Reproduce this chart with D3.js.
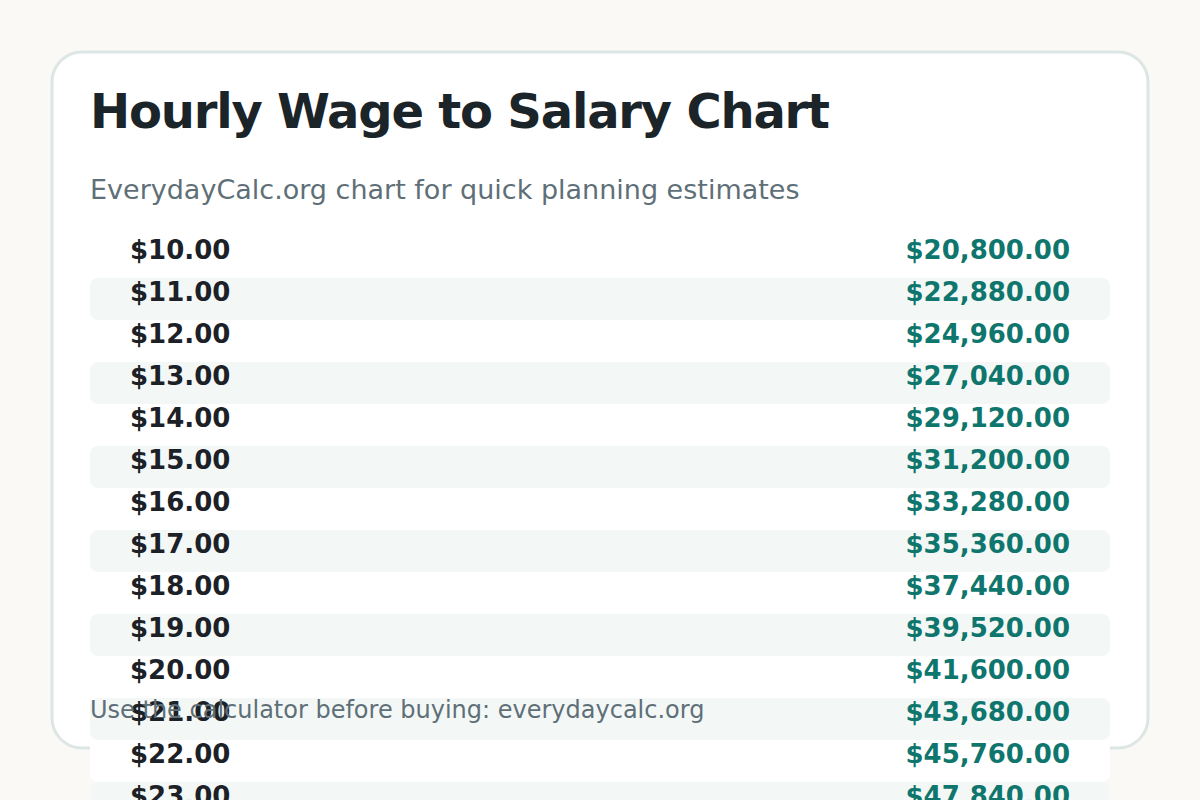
<!DOCTYPE html>
<html>
<head>
<meta charset="utf-8">
<script src="https://cdn.jsdelivr.net/npm/d3@7"></script>
<style>
  html, body { margin: 0; padding: 0; background: #faf9f6; }
  svg { display: block; font-family: "DejaVu Sans", sans-serif; }
</style>
</head>
<body>
<div id="chart"></div>
<script>
// Wage table values
const wages = [10, 11, 12, 13, 14, 15, 16, 17, 18, 19, 20, 21, 22, 23, 24];
const salaries = [20800, 22880, 24960, 27040, 29120, 31200, 33280, 35360,
                  37440, 39520, 41600, 43680, 45760, 47840, 49920];

const title = "Hourly Wage to Salary Chart";
const subtitle = "EverydayCalc.org chart for quick planning estimates";
const footer = "Use the calculator before buying: everydaycalc.org";

const width = 1200, height = 800;
const rowH = 42;
const tableTop = 236;

const svg = d3.select("#chart")
    .append("svg")
    .attr("width", width)
    .attr("height", height);

svg.append("rect")
    .attr("width", width)
    .attr("height", height)
    .attr("fill", "#faf9f6");

// card
svg.append("rect")
    .attr("x", 52)
    .attr("y", 52)
    .attr("width", 1096)
    .attr("height", 696)
    .attr("rx", 30)
    .attr("fill", "#ffffff")
    .attr("stroke", "#dce6e4")
    .attr("stroke-width", 3);

svg.append("text")
    .attr("x", 90)
    .attr("y", 128)
    .attr("font-size", 48)
    .attr("font-weight", "bold")
    .attr("letter-spacing", -1.2)
    .attr("fill", "#1b2429")
    .text(title);

svg.append("text")
    .attr("x", 90)
    .attr("y", 199)
    .attr("font-size", 27)
    .attr("fill", "#5f6f78")
    .text(subtitle);

// rows
const y = d3.scaleBand()
    .domain(wages)
    .range([tableTop, tableTop + rowH * wages.length]);

const money = d3.format("$,.2f");

const rows = svg.selectAll("g.row")
    .data(wages.map((w, i) => ({wage: w, salary: salaries[i], i: i})))
    .join("g")
    .attr("class", "row")
    .attr("transform", d => `translate(0, ${y(d.wage)})`);

rows.append("rect")
    .attr("x", 90)
    .attr("width", 1020)
    .attr("height", y.bandwidth())
    .attr("rx", 8)
    .attr("fill", d => d.i % 2 ? "#f3f8f6" : "#ffffff");

rows.append("text")
    .attr("x", 130)
    .attr("y", 23)
    .attr("font-size", 26)
    .attr("font-weight", "bold")
    .attr("fill", "#1b2127")
    .text(d => money(d.wage));

rows.append("text")
    .attr("x", 1070)
    .attr("y", 23)
    .attr("text-anchor", "end")
    .attr("font-size", 26)
    .attr("font-weight", "bold")
    .attr("fill", "#0f766e")
    .text(d => money(d.salary));

svg.append("text")
    .attr("x", 90)
    .attr("y", 718)
    .attr("font-size", 24)
    .attr("fill", "#5f6f78")
    .text(footer);
</script>
</body>
</html>
